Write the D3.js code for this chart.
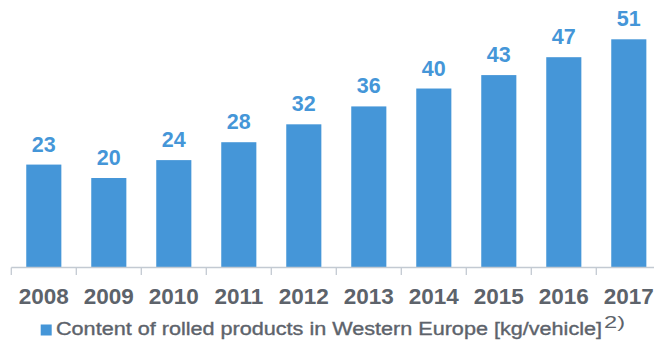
<!DOCTYPE html>
<html>
<head>
<meta charset="utf-8">
<script src="https://cdn.jsdelivr.net/npm/d3@7"></script>
<style>
  html, body { margin: 0; padding: 0; background: #ffffff; }
  svg { display: block; font-family: "Liberation Sans", Arial, sans-serif; }
</style>
</head>
<body>
<svg id="chart" width="654" height="340"></svg>
<script>
// Rolled-product content per vehicle, Western Europe
const years = ["2008", "2009", "2010", "2011", "2012", "2013", "2014", "2015", "2016", "2017"];
const contentKg = [23, 20, 24, 28, 32, 36, 40, 43, 47, 51];
const legendLabel = "Content of rolled products in Western Europe [kg/vehicle]";
const legendNote = "2)";

const barColor = "#4596d8";
const axisColor = "#c3cad2";
const textGray = "#5d636b";

const svg = d3.select("#chart");

const x = d3.scaleBand()
  .domain(years)
  .range([11.3, 661.3])
  .paddingInner(0.46)
  .paddingOuter(0.23);

const y = d3.scaleLinear()
  .domain([0, 51])
  .range([267.5, 39.3]);

// bars
svg.append("g")
  .selectAll("rect")
  .data(years)
  .join("rect")
  .attr("x", d => x(d))
  .attr("width", x.bandwidth())
  .attr("y", (d, i) => y(contentKg[i]))
  .attr("height", (d, i) => y(0) - y(contentKg[i]))
  .attr("fill", barColor);

// value labels
svg.append("g")
  .selectAll("text")
  .data(years)
  .join("text")
  .attr("x", d => x(d) + x.bandwidth() / 2)
  .attr("y", (d, i) => y(contentKg[i]) - 13)
  .attr("text-anchor", "middle")
  .attr("font-size", 21.5)
  .attr("font-weight", "bold")
  .attr("fill", barColor)
  .text((d, i) => contentKg[i]);

// category axis with ticks between categories
const axisG = svg.append("g");
const step = x.step();
const left = x.range()[0];
axisG.append("line")
  .attr("x1", left).attr("x2", x.range()[1])
  .attr("y1", y(0)).attr("y2", y(0))
  .attr("stroke", axisColor).attr("stroke-width", 1.3);
axisG.selectAll("line.tick")
  .data(d3.range(years.length + 1))
  .join("line")
  .attr("class", "tick")
  .attr("x1", i => left + i * step)
  .attr("x2", i => left + i * step)
  .attr("y1", y(0)).attr("y2", y(0) + 7.5)
  .attr("stroke", axisColor).attr("stroke-width", 1.3);
axisG.selectAll("text")
  .data(years)
  .join("text")
  .attr("x", d => x(d) + x.bandwidth() / 2)
  .attr("y", 304)
  .attr("text-anchor", "middle")
  .attr("font-size", 22.5)
  .attr("font-weight", "bold")
  .attr("fill", textGray)
  .text(d => d);

// legend
const legend = svg.append("g");
legend.append("rect")
  .attr("x", 40.7).attr("y", 324.5)
  .attr("width", 11).attr("height", 11)
  .attr("fill", barColor);
legend.append("text")
  .attr("x", 56)
  .attr("y", 334.5)
  .attr("font-size", 17.5)
  .attr("fill", textGray)
  .attr("stroke", textGray)
  .attr("stroke-width", 0.35)
  .attr("textLength", 546)
  .attr("lengthAdjust", "spacingAndGlyphs")
  .text(legendLabel);
legend.append("text")
  .attr("x", 604)
  .attr("y", 327.5)
  .attr("font-size", 16.5)
  .attr("fill", textGray)
  .attr("textLength", 21)
  .attr("lengthAdjust", "spacingAndGlyphs")
  .text(legendNote);
</script>
</body>
</html>
